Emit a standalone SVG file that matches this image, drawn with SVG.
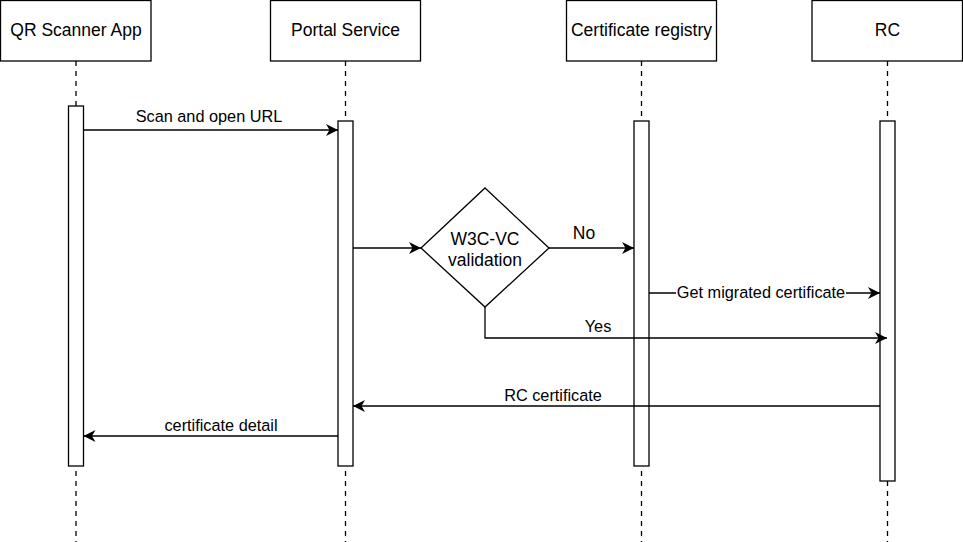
<svg xmlns="http://www.w3.org/2000/svg" width="963" height="542" viewBox="0 0 963 542">
<style>
.box{fill:#fff;stroke:#000;stroke-width:1.3}
.life{stroke:#000;stroke-width:1.3;stroke-dasharray:5 5;fill:none}
.act{fill:#fff;stroke:#000;stroke-width:1.3}
.edge{stroke:#000;stroke-width:1.3;fill:none}
.nt{font-family:"Liberation Sans",Arial,sans-serif;font-size:17.5px;text-anchor:middle;fill:#000}
.et{font-family:"Liberation Sans",Arial,sans-serif;font-size:16.3px;text-anchor:middle;fill:#000}
</style>
<defs>
<marker id="ah" markerUnits="userSpaceOnUse" markerWidth="14" markerHeight="12" refX="12" refY="6" orient="auto">
<path d="M0,0 L12,6 L0,12 L3.5,6 Z" fill="#000"/>
</marker>
</defs>
<rect width="963" height="542" fill="#fff"/>
<g id="lifelines">
<line class="life" x1="76" y1="61" x2="76" y2="542"/>
<line class="life" x1="345.5" y1="61" x2="345.5" y2="542"/>
<line class="life" x1="641.5" y1="61" x2="641.5" y2="542"/>
<line class="life" x1="887.5" y1="61" x2="887.5" y2="542"/>
</g>
<g id="qr-scanner">
<rect class="box" x="0.5" y="0.5" width="150.5" height="60.5"/>
<text class="nt" x="76" y="36">QR Scanner App</text>
<rect class="act" x="68.5" y="106" width="15" height="360"/>
</g>
<g id="portal-service">
<rect class="box" x="270.5" y="0.5" width="150" height="60.5"/>
<text class="nt" x="345.5" y="36">Portal Service</text>
<rect class="act" x="338" y="121" width="15" height="345"/>
</g>
<g id="certificate-registry">
<rect class="box" x="566.5" y="0.5" width="150" height="60.5"/>
<text class="nt" x="641.5" y="36">Certificate registry</text>
<rect class="act" x="634" y="121" width="15" height="345"/>
</g>
<g id="rc">
<rect class="box" x="812" y="0.5" width="150.5" height="60.5"/>
<text class="nt" x="887.5" y="36">RC</text>
<rect class="act" x="880" y="121" width="15" height="360"/>
</g>
<g id="decision">
<polygon class="box" points="485,188 549,248 485,307 421,248"/>
<text class="nt" x="485" y="245">W3C-VC</text>
<text class="nt" x="485" y="266">validation</text>
</g>
<g id="connectors">
<line class="edge" x1="83.5" y1="130" x2="338" y2="130" marker-end="url(#ah)"/>
<text class="et" x="209" y="122">Scan and open URL</text>
<line class="edge" x1="353" y1="248" x2="421" y2="248" marker-end="url(#ah)"/>
<line class="edge" x1="549" y1="248" x2="634" y2="248" marker-end="url(#ah)"/>
<text class="nt" x="584" y="239">No</text>
<line class="edge" x1="649" y1="293" x2="880" y2="293" marker-end="url(#ah)"/>
<rect x="676" y="284" width="170" height="17" fill="#fff"/>
<text class="et" x="761" y="298">Get migrated certificate</text>
<polyline class="edge" points="485,307 485,338 887,338" marker-end="url(#ah)"/>
<text class="et" x="598" y="332">Yes</text>
<line class="edge" x1="880" y1="406" x2="353" y2="406" marker-end="url(#ah)"/>
<text class="et" x="553" y="401">RC certificate</text>
<line class="edge" x1="338" y1="436" x2="83.5" y2="436" marker-end="url(#ah)"/>
<text class="et" x="221" y="431">certificate detail</text>
</g>
</svg>
